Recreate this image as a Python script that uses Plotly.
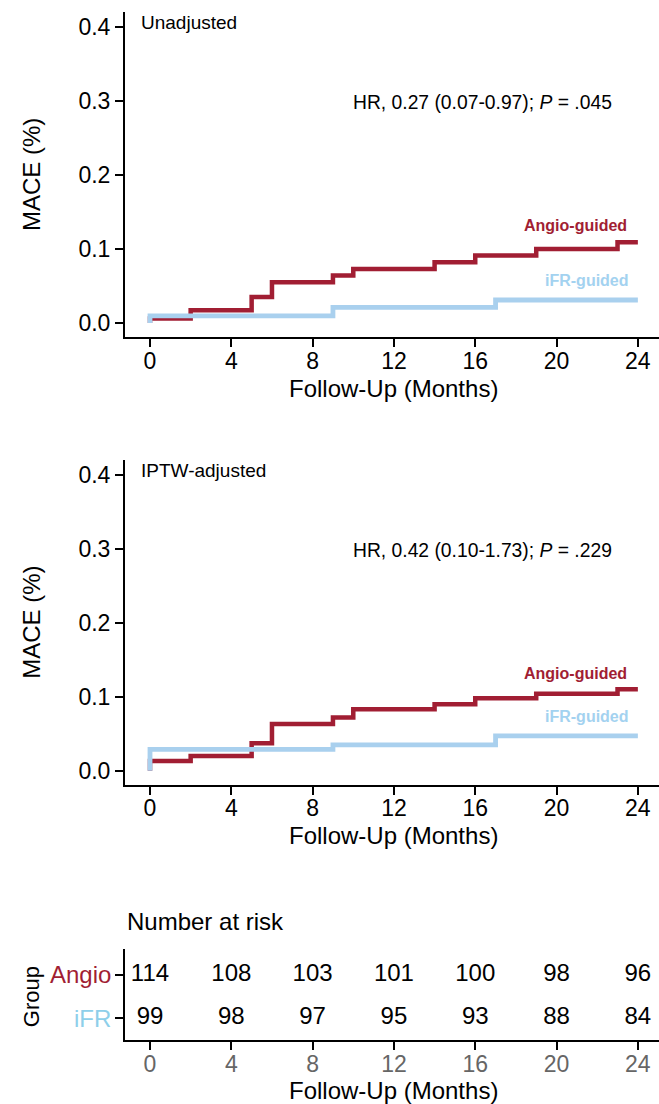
import plotly.graph_objects as go

# ---------------- data ----------------
months_ticks = [0, 4, 8, 12, 16, 20, 24]
y_ticks = [0.0, 0.1, 0.2, 0.3, 0.4]
y_ticktext = ["0.0", "0.1", "0.2", "0.3", "0.4"]

# Unadjusted KM cumulative incidence
unadj_angio_t = [0, 0, 2, 5, 6, 9, 10, 14, 16, 19, 23, 24]
unadj_angio_v = [0, 0.006, 0.017, 0.035, 0.055, 0.064, 0.073, 0.082, 0.091, 0.100, 0.109, 0.109]
unadj_ifr_t = [0, 0, 9, 17, 24]
unadj_ifr_v = [0, 0.0095, 0.021, 0.031, 0.031]

# IPTW-adjusted
iptw_angio_t = [0, 0, 2, 5, 6, 9, 10, 14, 16, 19, 23, 24]
iptw_angio_v = [0, 0.013, 0.020, 0.037, 0.063, 0.072, 0.083, 0.090, 0.098, 0.104, 0.110, 0.110]
iptw_ifr_t = [0, 0, 9, 17, 24]
iptw_ifr_v = [0, 0.029, 0.035, 0.047, 0.047]

panel_titles = ["Unadjusted", "IPTW-adjusted"]
hr_texts = ["HR, 0.27 (0.07-0.97); <i>P</i> = .045",
            "HR, 0.42 (0.10-1.73); <i>P</i> = .229"]
curve_labels = ["Angio-guided", "iFR-guided"]
angio_label_y = [0.132, 0.132]
ifr_label_y = [0.057, 0.073]

risk_times = [0, 4, 8, 12, 16, 20, 24]
risk_angio = [114, 108, 103, 101, 100, 98, 96]
risk_ifr = [99, 98, 97, 95, 93, 88, 84]
group_names = ["iFR", "Angio"]

x_title = "Follow-Up (Months)"
y_title = "MACE (%)"

# ---------------- style ----------------
W, H = 659, 1104
RED = "#A11E33"
BLUE = "#A9D0EE"
BLUE_TXT = "#A3D2F0"
BLUE_GRP = "#8ECFEA"
FONT = "Liberation Sans, Arial, Helvetica, sans-serif"
TICK_SIZE = 23

def fx(px):
    return px / W

def fy(py):
    return 1 - py / H

fig = go.Figure()

xrange = [-1.23, 25.04]
yrange = [-0.019, 0.42]
x_dom = [fx(125), 1.0]

panels = [
    dict(xa="x", ya="y", top=12.2, bot=337.0, at=unadj_angio_t, av=unadj_angio_v,
         it=unadj_ifr_t, iv=unadj_ifr_v),
    dict(xa="x2", ya="y2", top=459.9, bot=784.8, at=iptw_angio_t, av=iptw_angio_v,
         it=iptw_ifr_t, iv=iptw_ifr_v),
]

annotations = []
for i, p in enumerate(panels):
    fig.add_trace(go.Scatter(x=p["at"], y=p["av"], mode="lines", line_shape="hv",
                             line=dict(color=RED, width=4.5), xaxis=p["xa"], yaxis=p["ya"],
                             showlegend=False, hoverinfo="skip"))
    fig.add_trace(go.Scatter(x=p["it"], y=p["iv"], mode="lines", line_shape="hv",
                             line=dict(color=BLUE, width=4.8), xaxis=p["xa"], yaxis=p["ya"],
                             showlegend=False, hoverinfo="skip"))
    annotations += [
        dict(x=-0.55, y=0.406, xref=p["xa"], yref=p["ya"], text=panel_titles[i],
             xanchor="left", yanchor="middle", showarrow=False,
             font=dict(size=19, color="black", family=FONT)),
        dict(x=16.37, y=0.298, xref=p["xa"], yref=p["ya"], text=hr_texts[i],
             xanchor="center", yanchor="middle", showarrow=False,
             font=dict(size=19.3, color="black", family=FONT)),
        dict(x=23.55, y=angio_label_y[i], xref=p["xa"], yref=p["ya"],
             text="<b>" + curve_labels[0] + "</b>", xanchor="right", yanchor="middle",
             showarrow=False, font=dict(size=16, color=RED, family=FONT)),
        dict(x=23.68, y=ifr_label_y[i], xref=p["xa"], yref=p["ya"],
             text="<b>" + curve_labels[1] + "</b>", xanchor="right", yanchor="middle",
             showarrow=False, font=dict(size=16, color=BLUE_TXT, family=FONT)),
        dict(x=fx(31.5), y=fy((p["top"] + p["bot"]) / 2), xref="paper", yref="paper",
             text=y_title, textangle=-90, showarrow=False, xanchor="center", yanchor="middle",
             font=dict(size=24, color="black", family=FONT)),
        dict(x=fx(393.5), y=fy(p["bot"] + 51), xref="paper", yref="paper",
             text=x_title, showarrow=False, xanchor="center", yanchor="middle",
             font=dict(size=24, color="black", family=FONT)),
    ]

# risk table
fig.add_trace(go.Scatter(x=risk_times, y=[2] * len(risk_times), mode="text",
                         text=[str(v) for v in risk_angio], textposition="middle center",
                         textfont=dict(size=24, color="black", family=FONT),
                         xaxis="x3", yaxis="y3", showlegend=False, hoverinfo="skip"))
fig.add_trace(go.Scatter(x=risk_times, y=[1] * len(risk_times), mode="text",
                         text=[str(v) for v in risk_ifr], textposition="middle center",
                         textfont=dict(size=24, color="black", family=FONT),
                         xaxis="x3", yaxis="y3", showlegend=False, hoverinfo="skip"))

annotations += [
    dict(x=fx(125), y=fy(921.7), xref="paper", yref="paper", text="Number at risk",
         xanchor="left", yanchor="middle", showarrow=False,
         font=dict(size=24, color="black", family=FONT)),
    dict(x=fx(31.5), y=fy(996.7), xref="paper", yref="paper", text="Group",
         textangle=-90, xanchor="center", yanchor="middle", showarrow=False,
         font=dict(size=22, color="black", family=FONT)),
    dict(x=fx(113), y=2, xref="paper", yref="y3", text=group_names[1],
         xanchor="right", yanchor="middle", showarrow=False,
         font=dict(size=24, color=RED, family=FONT)),
    dict(x=fx(113), y=1, xref="paper", yref="y3", text=group_names[0],
         xanchor="right", yanchor="middle", showarrow=False,
         font=dict(size=24, color=BLUE_GRP, family=FONT)),
    dict(x=fx(393.5), y=fy(1090), xref="paper", yref="paper", text=x_title,
         showarrow=False, xanchor="center", yanchor="middle",
         font=dict(size=24, color="black", family=FONT)),
]

def xaxis_style(dom_y_anchor, color="black"):
    return dict(domain=x_dom, range=xrange, tickvals=months_ticks,
                ticktext=[str(t) for t in months_ticks],
                showline=True, linecolor="black", linewidth=2,
                ticks="outside", ticklen=8, tickwidth=2, tickcolor="black",
                showgrid=False, zeroline=False, anchor=dom_y_anchor,
                ticklabelstandoff=-6,
                tickfont=dict(size=TICK_SIZE, color=color, family=FONT), fixedrange=True)

def yaxis_style(top, bot, anchor):
    return dict(domain=[fy(bot), fy(top)], range=yrange, tickvals=y_ticks,
                ticktext=y_ticktext, showline=True, linecolor="black", linewidth=2,
                ticks="outside", ticklen=8, tickwidth=2, tickcolor="black",
                showgrid=False, zeroline=False, anchor=anchor,
                tickfont=dict(size=TICK_SIZE, color="black", family=FONT), fixedrange=True)

fig.update_layout(
    width=W, height=H, margin=dict(l=0, r=0, t=0, b=0),
    paper_bgcolor="white", plot_bgcolor="white",
    font=dict(family=FONT, color="black"),
    xaxis=xaxis_style("y"),
    yaxis=yaxis_style(panels[0]["top"], panels[0]["bot"], "x"),
    xaxis2=xaxis_style("y2"),
    yaxis2=yaxis_style(panels[1]["top"], panels[1]["bot"], "x2"),
    xaxis3=xaxis_style("y3", color="#666666"),
    yaxis3=dict(domain=[fy(1040), fy(949.3)], range=[0.5, 2.59], tickvals=[1, 2],
                showticklabels=False, showline=True, linecolor="black", linewidth=2,
                ticks="outside", ticklen=8, tickwidth=2, tickcolor="black",
                showgrid=False, zeroline=False, anchor="x3", fixedrange=True),
    annotations=annotations,
    showlegend=False,
)

fig.write_html("out.html")
